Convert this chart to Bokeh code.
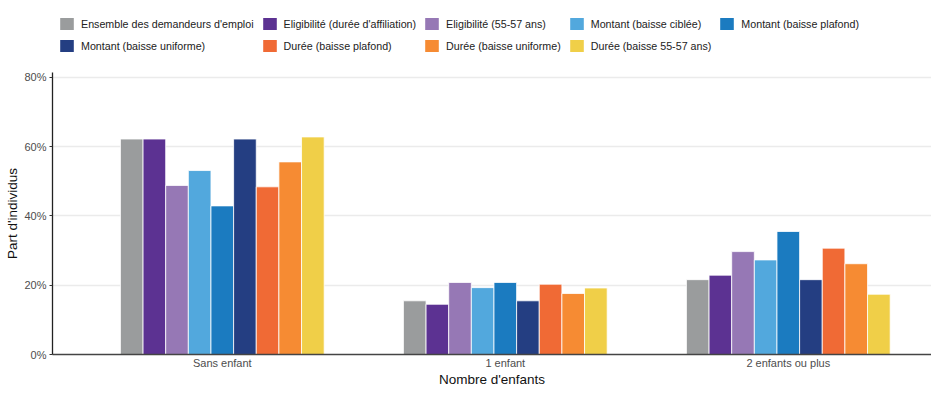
from bokeh.plotting import figure
from bokeh.layouts import column
from bokeh.models import ColumnDataSource, Legend, LegendItem, Range1d, FixedTicker
from bokeh.embed import file_html
from bokeh.resources import INLINE

categories = ["Sans enfant", "1 enfant", "2 enfants ou plus"]
series = [
    "Ensemble des demandeurs d'emploi",
    "Eligibilité (durée d'affiliation)",
    "Eligibilité (55-57 ans)",
    "Montant (baisse ciblée)",
    "Montant (baisse plafond)",
    "Montant (baisse uniforme)",
    "Durée (baisse plafond)",
    "Durée (baisse uniforme)",
    "Durée (baisse 55-57 ans)",
]
colors = ["#9A9C9D", "#5C3292", "#9678B5", "#52A8DD", "#1B7BC0",
          "#243E82", "#F06A35", "#F68B33", "#F0CF48"]

ensemble = [62.2, 15.5, 21.6]
elig_affiliation = [62.2, 14.5, 22.9]
elig_55_57 = [48.8, 20.8, 29.7]
montant_ciblee = [53.1, 19.3, 27.3]
montant_plafond = [42.9, 20.8, 35.5]
montant_uniforme = [62.2, 15.5, 21.6]
duree_plafond = [48.4, 20.3, 30.7]
duree_uniforme = [55.6, 17.6, 26.2]
duree_55_57 = [62.8, 19.2, 17.4]

values = [ensemble, elig_affiliation, elig_55_57, montant_ciblee, montant_plafond,
          montant_uniforme, duree_plafond, duree_uniforme, duree_55_57]

y_ticks = [0, 20, 40, 60, 80]
y_tick_labels = ["0%", "20%", "40%", "60%", "80%"]

FONT = "Liberation Sans"
BAR_W = 0.08
n = len(series)

# ---- legend strip (separate figure on top; its ranges show no data) ----
lf = figure(width=931, height=60, output_backend="svg", toolbar_location=None,
            x_axis_type=None, y_axis_type=None, x_range=Range1d(-10, -9), y_range=Range1d(-10, -9),
            min_border_left=0, min_border_right=0, min_border_top=0, min_border_bottom=0)
lf.outline_line_color = None
lf.xgrid.grid_line_color = None
lf.ygrid.grid_line_color = None

# ---- main chart ----
p = figure(width=931, height=329, output_backend="svg", toolbar_location=None,
           x_range=Range1d(0.4, 3.506), y_range=Range1d(0, 81.4),
           min_border_left=52, min_border_right=0, min_border_top=12, min_border_bottom=31)
p.outline_line_color = None
p.background_fill_color = "white"

items = []
for j, (name, vals, col) in enumerate(zip(series, values, colors)):
    xs = [i + 1 + (j - (n - 1) / 2) * BAR_W for i in range(len(categories))]
    src = ColumnDataSource(dict(x=xs, top=vals))
    p.vbar(x="x", top="top", width=BAR_W, bottom=0, source=src,
           fill_color=col, line_color="white", line_width=0.8)
    swatch = lf.vbar(x="x", top="top", width=BAR_W, bottom=0, source=src,
                     fill_color=col, line_color=None)
    items.append(LegendItem(label=name, renderers=[swatch]))

# axes
p.xaxis.ticker = FixedTicker(ticks=[1, 2, 3])
p.xaxis.major_label_overrides = {i + 1: c for i, c in enumerate(categories)}
p.xaxis.major_tick_out = 0
p.xaxis.major_tick_in = 0
p.xaxis.minor_tick_out = 0
p.xaxis.minor_tick_in = 0
p.xaxis.major_label_standoff = 2
p.xaxis.axis_label = "Nombre d'enfants"
p.xaxis.axis_label_standoff = 0
p.xaxis.axis_line_color = "#444444"
p.xaxis.axis_line_width = 1.3

p.yaxis.ticker = FixedTicker(ticks=y_ticks)
p.yaxis.major_label_overrides = dict(zip(y_ticks, y_tick_labels))
p.yaxis.major_tick_out = 3
p.yaxis.major_tick_in = 0
p.yaxis.minor_tick_out = 0
p.yaxis.minor_tick_in = 0
p.yaxis.major_label_standoff = 3
p.yaxis.axis_label = "Part d'individus"
p.yaxis.axis_label_standoff = 1
p.yaxis.axis_line_color = "#222222"
p.yaxis.axis_line_width = 1.3
p.yaxis.major_tick_line_color = "#333333"

for ax in (p.xaxis, p.yaxis):
    ax.major_label_text_font = FONT
    ax.major_label_text_font_size = "11px"
    ax.major_label_text_color = "#4D4D4D"
    ax.axis_label_text_font = FONT
    ax.axis_label_text_font_size = "13.5px"
    ax.axis_label_text_font_style = "normal"
    ax.axis_label_text_color = "#111111"

p.xgrid.grid_line_color = None
p.ygrid.grid_line_color = "#EBEBEB"
p.ygrid.grid_line_width = 1.3

legend = Legend(items=items, orientation="horizontal", ncols=5,
                location=(6, 7), margin=0, padding=0,
                glyph_width=17, glyph_height=15, label_standoff=6, spacing=7,
                label_text_font=FONT, label_text_font_size="10.7px",
                label_text_color="#222222", label_height=15,
                border_line_color=None, background_fill_alpha=0)
lf.add_layout(legend, "center")

layout = column(lf, p, spacing=0)
open("out.html", "w").write(file_html(layout, INLINE))
